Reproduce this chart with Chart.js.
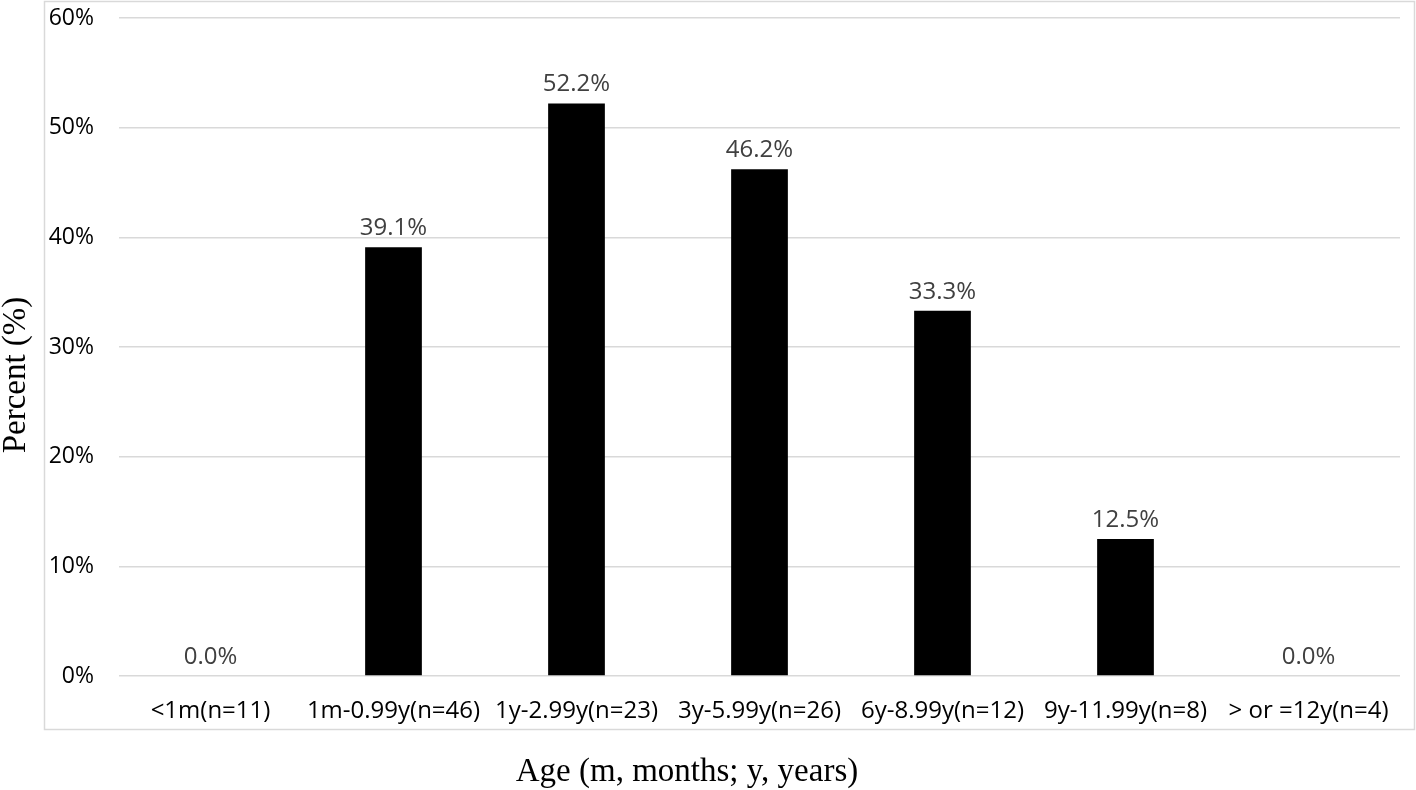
<!DOCTYPE html>
<html>
<head>
<meta charset="utf-8">
<script src="https://cdn.jsdelivr.net/npm/chart.js@4"></script>
<style>
  html, body { margin: 0; padding: 0; background: #fff; }
  #wrap { width: 1416px; height: 790px; }
</style>
</head>
<body>
<div id="wrap"><canvas id="ageChart" width="1416" height="790"></canvas></div>
<script>
// age groups and share of positive cases (%)
const categories = ['<1m(n=11)', '1m-0.99y(n=46)', '1y-2.99y(n=23)', '3y-5.99y(n=26)', '6y-8.99y(n=12)', '9y-11.99y(n=8)', '> or =12y(n=4)'];
const percents = [0.0, 39.1, 52.2, 46.2, 33.3, 12.5, 0.0];
const yTicks = [0, 10, 20, 30, 40, 50, 60];

const xTitle = 'Age (m, months; y, years)';
const yTitle = 'Percent (%)';

const sansFont = '"Open Sans", "Noto Sans", sans-serif';

// frame around the plot + serif axis titles + value labels
const decorations = {
    id: 'decorations',
    beforeDraw(chart) {
        const ctx = chart.ctx;
        ctx.save();
        ctx.strokeStyle = '#d9d9d9';
        ctx.lineWidth = 1.5;
        ctx.strokeRect(44.5, 1.5, 1370, 728);
        ctx.restore();
    },
    afterDraw(chart) {
        const ctx = chart.ctx;
        ctx.save();
        ctx.fillStyle = '#000';
        ctx.font = '33px "Liberation Serif", "Times New Roman", serif';
        ctx.textAlign = 'center';
        ctx.textBaseline = 'middle';
        ctx.fillText(xTitle, 687, 772);

        ctx.translate(16, 375);
        ctx.rotate(-Math.PI / 2);
        ctx.fillText(yTitle, 0, 0);
        ctx.restore();

        ctx.save();
        ctx.fillStyle = '#404040';
        ctx.font = '24px ' + sansFont;
        ctx.textAlign = 'center';
        ctx.textBaseline = 'bottom';
        const meta = chart.getDatasetMeta(0);
        meta.data.forEach(function (bar, i) {
            ctx.fillText(percents[i].toFixed(1) + '%', bar.x, bar.y - 7);
        });
        ctx.restore();
    }
};

new Chart(document.getElementById('ageChart'), {
    type: 'bar',
    data: {
        labels: categories,
        datasets: [{
            data: percents,
            backgroundColor: '#000000',
            borderWidth: 0,
            barPercentage: 0.31,
            categoryPercentage: 1
        }]
    },
    options: {
        responsive: false,
        animation: false,
        layout: {
            autoPadding: false,
            padding: { top: 18, right: 16, left: 0, bottom: 0 }
        },
        plugins: {
            legend: { display: false },
            tooltip: { enabled: false }
        },
        scales: {
            x: {
                grid: { display: false, drawTicks: false },
                border: { display: false },
                ticks: {
                    color: '#000',
                    font: { family: sansFont, size: 24 },
                    padding: 21,
                    maxRotation: 0,
                    autoSkip: false
                },
                afterFit: function (scale) { scale.height = 114; }
            },
            y: {
                min: 0,
                max: 60,
                afterBuildTicks: function (scale) {
                    scale.ticks = yTicks.map(v => ({ value: v }));
                },
                grid: { color: '#d9d9d9', lineWidth: 1.5, drawTicks: false },
                border: { display: false },
                ticks: {
                    color: '#000',
                    font: { family: sansFont, size: 23 },
                    padding: 25,
                    callback: v => v + '%'
                },
                afterFit: function (scale) {
                    scale.width = 119;
                    scale.paddingTop = 0;
                    scale.paddingBottom = 0;
                }
            }
        }
    },
    plugins: [decorations]
});
</script>
</body>
</html>
